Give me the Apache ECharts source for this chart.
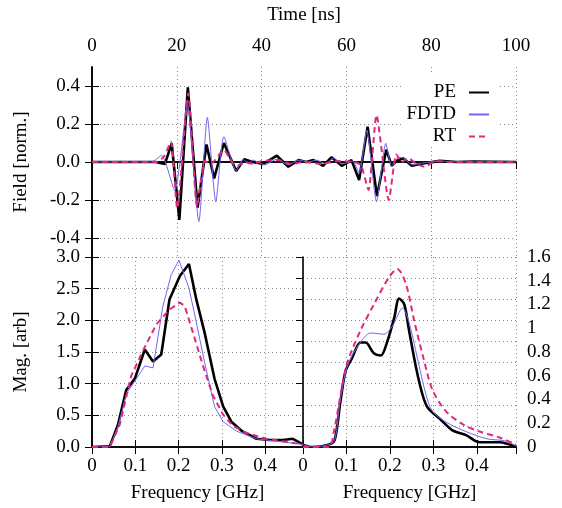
<!DOCTYPE html>
<html><head><meta charset="utf-8">
<script src="https://cdn.jsdelivr.net/npm/echarts@6/dist/echarts.min.js"></script>
<style>html,body{margin:0;padding:0;background:#fff}#c{width:562px;height:508px}</style>
</head><body><div id="c"></div>
<script>
// ---- Top panel: time domain field ----
const peTime  = [0, 15, 17.2, 18.8, 20.6, 22.6, 24.9, 27.0, 28.8, 31.1, 34.0, 35.9, 37.9, 40.4, 43.6, 46.3, 48.7, 50.5, 52.2, 54.5, 56.5, 58.9, 61.2, 63.0, 65.0, 67.2, 69.4, 70.7, 71.8, 73.4, 75.4, 78, 82, 86, 90, 100];
const peField = [0, 0, -0.01, 0.098, -0.305, 0.393, -0.24, 0.092, -0.086, 0.1, -0.047, 0.014, 0, -0.01, 0.033, -0.025, 0.01, 0, 0.01, -0.02, 0.025, -0.02, 0.01, -0.095, 0.186, -0.18, 0.065, -0.02, 0.005, 0.02, -0.02, -0.008, 0.006, 0, 0.002, 0];
const fdTime  = [0, 14, 16.4, 19.5, 22.5, 25.2, 27.2, 29.2, 31.1, 34.0, 35.7, 36.9, 37.9, 40.7, 43.6, 46.3, 48.7, 51, 53, 55, 57, 59, 61.5, 63.0, 64.8, 67.1, 69.3, 70.7, 72.2, 73.5, 75.5, 78, 82, 86, 100];
const fdField = [0, 0, 0.035, -0.15, 0.30, -0.314, 0.235, -0.209, 0.133, -0.045, 0.014, -0.01, 0.01, -0.015, 0.015, -0.015, 0.01, 0, 0.01, -0.01, 0.02, -0.01, 0.005, -0.06, 0.168, -0.209, 0.098, -0.025, 0.025, 0.02, -0.015, -0.005, 0.005, 0, 0];
const rtTime  = [0, 15.2, 17.0, 18.6, 20.1, 22.7, 24.8, 26.6, 28.0, 31.1, 33.0, 34.3, 36, 38, 40, 44, 47, 50, 54, 58, 62, 63.5, 65.2, 67.1, 70.0, 71.8, 73, 74.6, 76.5, 78.5, 81, 84, 100];
const rtField = [0, 0, 0.03, 0.107, -0.244, 0.36, -0.235, 0.005, -0.01, 0.063, 0, -0.02, 0, -0.01, 0.005, 0.01, -0.01, 0, -0.01, 0.005, 0, -0.02, -0.147, 0.247, -0.2, 0.04, 0.0, 0.02, -0.01, -0.025, 0.005, 0, 0];

// ---- Bottom-left panel: spectrum ----
const blPeFreq = [0, 0.041, 0.06, 0.079, 0.099, 0.122, 0.141, 0.16, 0.179, 0.203, 0.224, 0.241, 0.26, 0.283, 0.303, 0.322, 0.345, 0.38, 0.41, 0.441, 0.464, 0.4875];
const blPeMag  = [0, 0.01, 0.35, 0.9, 1.08, 1.54, 1.35, 1.46, 2.33, 2.70, 2.89, 2.33, 1.81, 1.08, 0.64, 0.40, 0.26, 0.13, 0.11, 0.11, 0.13, 0.04];
const blFdFreq = [0, 0.041, 0.06, 0.08, 0.099, 0.122, 0.141, 0.164, 0.183, 0.201, 0.224, 0.241, 0.26, 0.283, 0.303, 0.334, 0.38, 0.426, 0.464, 0.4875];
const blFdMag  = [0, 0.0, 0.32, 0.85, 1.04, 1.28, 1.25, 2.23, 2.72, 2.95, 2.51, 1.97, 1.34, 0.64, 0.40, 0.25, 0.13, 0.09, 0.06, 0.04];
const blRtFreq = [0, 0.041, 0.064, 0.091, 0.122, 0.149, 0.179, 0.203, 0.214, 0.233, 0.256, 0.279, 0.303, 0.326, 0.357, 0.403, 0.441, 0.4875];
const blRtMag  = [0, 0, 0.35, 1.13, 1.58, 1.94, 2.17, 2.28, 2.23, 1.81, 1.29, 0.82, 0.51, 0.33, 0.22, 0.13, 0.09, 0.04];

// ---- Bottom-right panel: spectrum ----
const brPeFreq = [0, 0.02, 0.059, 0.073, 0.086, 0.098, 0.113, 0.132, 0.144, 0.163, 0.179, 0.194, 0.21, 0.221, 0.233, 0.244, 0.26, 0.275, 0.287, 0.314, 0.344, 0.375, 0.406, 0.452, 0.49];
const brPeMag  = [0.02, 0, 0.02, 0.06, 0.38, 0.64, 0.75, 0.88, 0.88, 0.79, 0.77, 0.89, 1.09, 1.25, 1.20, 0.98, 0.67, 0.44, 0.33, 0.24, 0.14, 0.10, 0.04, 0.04, 0.0];
const brFdFreq = [0, 0.02, 0.059, 0.073, 0.086, 0.101, 0.128, 0.156, 0.186, 0.206, 0.229, 0.244, 0.263, 0.283, 0.298, 0.329, 0.375, 0.422, 0.467, 0.49];
const brFdMag  = [0.02, 0, 0.02, 0.06, 0.40, 0.67, 0.86, 0.96, 0.95, 1.02, 1.17, 1.05, 0.75, 0.44, 0.30, 0.21, 0.13, 0.07, 0.05, 0.01];
const brRtFreq = [0, 0.059, 0.071, 0.086, 0.101, 0.132, 0.163, 0.198, 0.217, 0.237, 0.256, 0.279, 0.298, 0.329, 0.368, 0.406, 0.452, 0.49];
const brRtMag  = [0, 0, 0.13, 0.43, 0.70, 0.98, 1.20, 1.43, 1.50, 1.37, 1.06, 0.72, 0.48, 0.30, 0.19, 0.13, 0.08, 0.02];

// ---- Tick labels ----
const fieldTicks = [-0.4, -0.2, 0, 0.2, 0.4];
const seriesNames = ['PE', 'FDTD', 'RT'];

const FONT = "'Liberation Serif','DejaVu Serif',serif";
const FS = 19;
const C_PE = '#000000', C_FD = '#7466f2', C_RT = '#e0287d';
const zip = (a, b) => a.map((x, i) => [x, b[i]]);
const grid = {type: [1, 3], color: '#888', width: 1};
const axLine = {show: true, lineStyle: {color: '#000', width: 1.6}};
const tick = {show: true, inside: true, length: 7, lineStyle: {color: '#000', width: 1}};
const lbl = {fontFamily: FONT, fontSize: FS, color: '#000'};
const nameSt = {fontFamily: FONT, fontSize: FS, color: '#000'};
const fmt1 = v => Math.abs(v) < 1e-9 ? '0' : String(+v.toFixed(2));

const styles = {
  PE: {color: C_PE, lineStyle: {color: C_PE, width: 2.6}},
  FDTD: {color: C_FD, lineStyle: {color: C_FD, width: 1}},
  RT: {color: C_RT, lineStyle: {color: C_RT, width: 2, type: [6, 4]}}
};
function mk(name, xi, yi, data, smooth) {
  return Object.assign({name, type: 'line', xAxisIndex: xi, yAxisIndex: yi, data, symbol: 'none',
    smooth: smooth || false, animation: false, z: 3}, JSON.parse(JSON.stringify(styles[name])));
}

const option = {
  backgroundColor: '#fff',
  animation: false,
  grid: [
    {left: 92, top: 67, width: 424, height: 190},
    {left: 92, top: 257, width: 211, height: 190},
    {left: 303, top: 257, width: 213, height: 190}
  ],
  xAxis: [
    {gridIndex: 0, type: 'value', position: 'top', min: 0, max: 100, interval: 20,
     name: 'Time [ns]', nameLocation: 'middle', nameGap: 42, nameTextStyle: nameSt,
     axisLine: axLine, axisTick: tick, axisLabel: Object.assign({margin: 11}, lbl),
     splitLine: {show: true, lineStyle: grid}},
    {gridIndex: 0, type: 'value', position: 'bottom', min: 0, max: 100,
     axisLine: axLine, axisTick: {show: false}, axisLabel: {show: false}, splitLine: {show: false}},
    {gridIndex: 1, type: 'value', position: 'bottom', min: 0, max: 0.4875, interval: 0.1,
     name: 'Frequency [GHz]', nameLocation: 'middle', nameGap: 37, nameTextStyle: nameSt,
     axisLine: axLine, axisTick: tick, axisLabel: Object.assign({margin: 10, showMaxLabel: false, formatter: fmt1}, lbl),
     splitLine: {show: true, lineStyle: grid}},
    {gridIndex: 1, type: 'value', position: 'top', min: 0, max: 0.4875, interval: 0.1,
     axisLine: axLine, axisTick: tick, axisLabel: {show: false}, splitLine: {show: false}},
    {gridIndex: 2, type: 'value', position: 'bottom', min: 0, max: 0.49, interval: 0.1,
     name: 'Frequency [GHz]', nameLocation: 'middle', nameGap: 37, nameTextStyle: nameSt,
     axisLine: axLine, axisTick: tick, axisLabel: Object.assign({margin: 10, showMaxLabel: false, formatter: fmt1}, lbl),
     splitLine: {show: true, lineStyle: grid}},
    {gridIndex: 2, type: 'value', position: 'top', min: 0, max: 0.49, interval: 0.1,
     axisLine: axLine, axisTick: tick, axisLabel: {show: false}, splitLine: {show: false}}
  ],
  yAxis: [
    {gridIndex: 0, type: 'value', position: 'left', min: -0.5, max: 0.5,
     name: 'Field [norm.]', nameLocation: 'middle', nameGap: 61, nameRotate: 90, nameTextStyle: nameSt,
     axisLine: axLine, axisTick: Object.assign({customValues: fieldTicks}, tick),
     axisLabel: Object.assign({margin: 12, customValues: fieldTicks, formatter: v => v.toFixed(1)}, lbl),
     splitLine: {show: true, lineStyle: grid}},
    {gridIndex: 0, type: 'value', position: 'right', min: -0.5, max: 0.5,
     axisLine: axLine, axisTick: Object.assign({customValues: fieldTicks}, tick),
     axisLabel: {show: false, customValues: fieldTicks}, splitLine: {show: false}},
    {gridIndex: 1, type: 'value', position: 'left', min: 0, max: 3, interval: 0.5,
     name: 'Mag. [arb]', nameLocation: 'middle', nameGap: 61, nameRotate: 90, nameTextStyle: nameSt,
     axisLine: axLine, axisTick: tick,
     axisLabel: Object.assign({margin: 12, formatter: v => v.toFixed(1)}, lbl),
     splitLine: {show: true, lineStyle: grid}},
    {gridIndex: 1, type: 'value', position: 'right', min: 0, max: 3, interval: 0.5,
     axisLine: axLine, axisTick: tick, axisLabel: {show: false}, splitLine: {show: false}},
    {gridIndex: 2, type: 'value', position: 'right', min: 0, max: 1.6, interval: 0.2,
     axisLine: axLine, axisTick: {show: false},
     axisLabel: Object.assign({margin: 11, formatter: fmt1}, lbl),
     splitLine: {show: false}},
    {gridIndex: 2, type: 'value', position: 'right', min: 0, max: 1.8, interval: 0.2,
     axisLine: {show: false}, axisTick: tick, axisLabel: {show: false},
     splitLine: {show: true, lineStyle: grid}}
  ],
  graphic: [
    {type: 'rect', z: 1, shape: {x: 404, y: 73, width: 96, height: 72}, style: {fill: '#fff'}}
  ],
  legend: seriesNames.map((n, i) => ({
    data: [n], orient: 'vertical', align: 'right', right: 72, top: 83 + i * 22,
    itemWidth: 20, itemHeight: 14, itemGap: 0, padding: 0, z: 5,
    itemStyle: {opacity: 0, borderWidth: 0},
    textStyle: {fontFamily: FONT, fontSize: FS, color: '#000', padding: [0, 8, 0, 0]},
    selectedMode: false
  })),
  series: [
    mk('PE', 0, 0, zip(peTime, peField)),
    mk('FDTD', 0, 0, zip(fdTime, fdField), 0.2),
    mk('RT', 0, 0, zip(rtTime, rtField), 0.2),
    mk('PE', 2, 2, zip(blPeFreq, blPeMag)),
    mk('FDTD', 2, 2, zip(blFdFreq, blFdMag)),
    mk('RT', 2, 2, zip(blRtFreq, blRtMag)),
    mk('PE', 4, 4, zip(brPeFreq, brPeMag), 0.3),
    mk('FDTD', 4, 4, zip(brFdFreq, brFdMag), 0.3),
    mk('RT', 4, 4, zip(brRtFreq, brRtMag), 0.3)
  ]
};
const chart = echarts.init(document.getElementById('c'), null, {renderer: 'canvas'});
chart.setOption(option);
</script></body></html>
